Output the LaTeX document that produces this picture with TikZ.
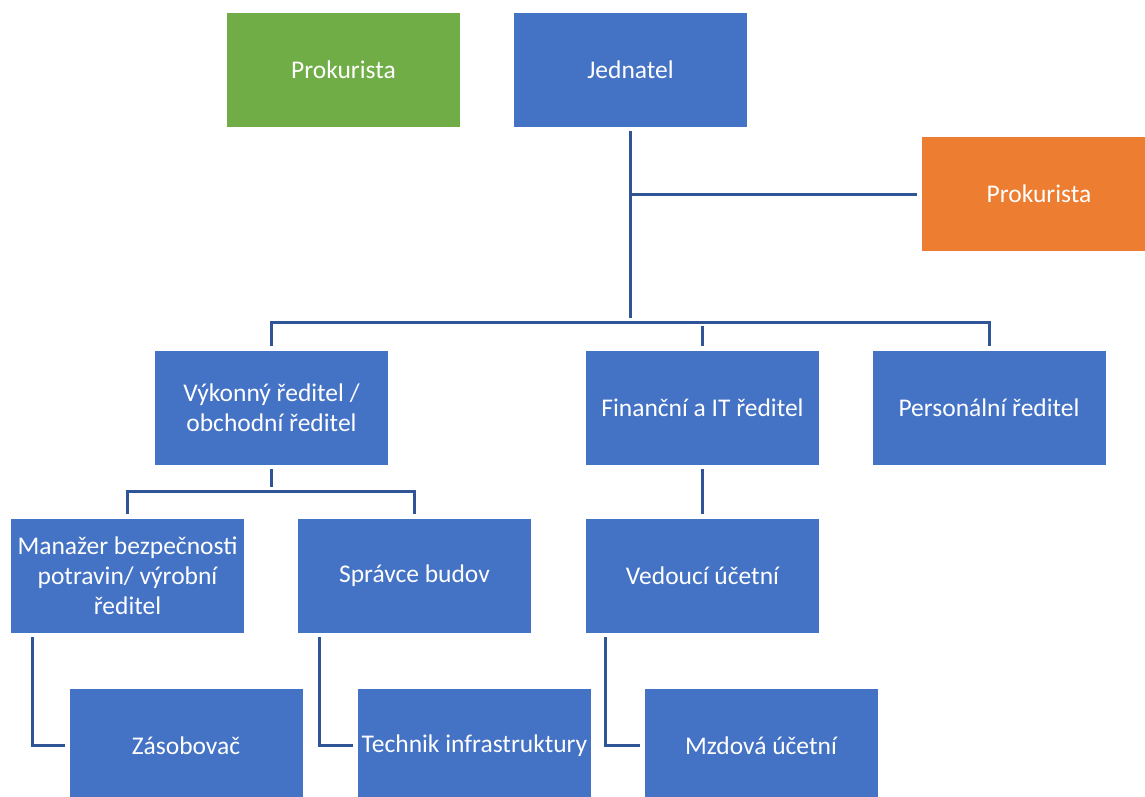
\documentclass[tikz,border=0pt]{standalone}
\usepackage{fontspec}
\setmainfont{Carlito}
\definecolor{boxblue}{HTML}{4472C4}
\definecolor{boxgreen}{HTML}{70AD47}
\definecolor{boxorange}{HTML}{ED7D31}
\definecolor{linkblue}{HTML}{2F5597}
\begin{document}
\begin{tikzpicture}[x=1pt,y=-1pt,
  orgbox/.style={rectangle, fill=boxblue, draw=white, line width=0.8pt,
    minimum width=234pt, minimum height=115pt, inner sep=0pt,
    text=white, align=center,
    font=\fontsize{25.5pt}{30pt}\selectfont},
  conn/.style={draw=linkblue, line width=3pt, shorten <=4pt, shorten >=4pt}]
\useasboundingbox (0,0) rectangle (1145,796);
\clip (0,0) rectangle (1145,796);

% top level
\node[orgbox, fill=boxgreen] (prok1) at (343.5,69.5) {Prokurista};
\node[orgbox] (jed) at (630.5,69.5) {Jednatel};
\node[orgbox, fill=boxorange, minimum width=236pt] (prok2) at (1039,194) {Prokurista};

% directors
\node[orgbox] (vyk) at (271.5,407.5) {Výkonný ředitel /\\obchodní ředitel};
\node[orgbox] (fin) at (702.5,407.5) {Finanční a IT ředitel};
\node[orgbox] (pers) at (989,407.5) {Personální ředitel};

% managers
\node[orgbox] (man) at (127.5,575.5) {Manažer bezpečnosti\\potravin/ výrobní\\ředitel};
\node[orgbox] (spr) at (414.5,575.5) {Správce budov};
\node[orgbox] (ved) at (702.5,575.5) {Vedoucí účetní};

% staff
\node[orgbox] (zas) at (186,745.5) {Zásobovač};
\node[orgbox] (tech) at (474.5,745.5) {Technik infrastruktury};
\node[orgbox] (mzd) at (761,745.5) {Mzdová účetní};

% bus lines
\coordinate (bar) at (630,322);
\coordinate (bar2) at (272,491);

\draw[conn] (jed.south) -- (jed.south |- bar);
\draw[conn, shorten <=0pt] (jed.south |- prok2.west) -- (prok2.west);
\draw[conn] (vyk.north) -- (vyk.north |- bar) -- (pers.north |- bar) -- (pers.north);
\draw[conn] (fin.north) -- (fin.north |- bar);

\draw[conn] (vyk.south) -- (vyk.south |- bar2);
\draw[conn] (man.north) -- (man.north |- bar2) -- (spr.north |- bar2) -- (spr.north);
\draw[conn] (fin.south) -- (ved.north);

\draw[conn] ([xshift=22pt]man.south west) |- (zas.west);
\draw[conn] ([xshift=22pt]spr.south west) |- (tech.west);
\draw[conn] ([xshift=20pt]ved.south west) |- (mzd.west);
\end{tikzpicture}
\end{document}
